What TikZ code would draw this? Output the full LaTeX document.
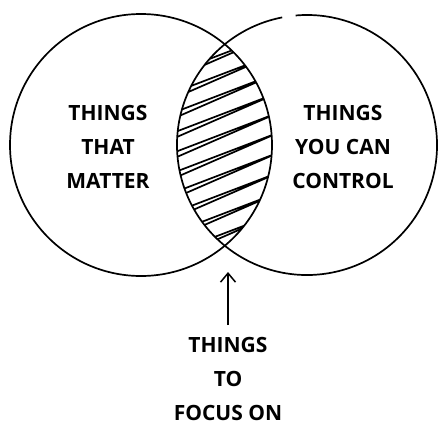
\documentclass[tikz,border=0pt]{standalone}
\usepackage{fontspec}
\setmainfont{Open Sans}
\usetikzlibrary{arrows.meta}
\tikzset{
  ring/.style={line width=1.7pt, black},
  hatch/.style={line width=1.7pt, black, line join=round},
  label/.style={align=center, font=\fontsize{21}{34}\selectfont\bfseries, inner sep=0pt},
  pointer/.style={line width=1.5pt, -{Straight Barb[length=9pt,width=15pt,line width=1.5pt]}}
}
\begin{document}
\begin{tikzpicture}[x=1pt,y=-1pt]
\useasboundingbox (0,0) rectangle (438,425);
\coordinate (L) at (141,145);
\coordinate (R) at (307,145);
% hatching in the overlap
\begin{scope}
  \clip (L) circle[radius=131pt];
  \clip (R) circle[radius=130pt];
  \foreach \y in {34,54,...,320}
    \draw[hatch] (170,\y) -- (280,\y-42) -- (170,\y+6);
\end{scope}
% circles
\draw[ring] (L) circle[radius=131pt];
\draw[ring] (R) ++(101:130pt) arc[start angle=101, end angle=455, radius=130pt];
% labels
\node[label] (matter) at (108,147) {THINGS\\THAT\\MATTER};
\node[label] (control) at (343,147) {THINGS\\YOU CAN\\CONTROL};
\node[label, anchor=north] (focus) at (228,337) {THINGS\\TO\\FOCUS ON};
\coordinate (tip) at (228,272);
\draw[pointer] (focus.north) ++(0,-12) -- (tip);
\end{tikzpicture}
\end{document}
